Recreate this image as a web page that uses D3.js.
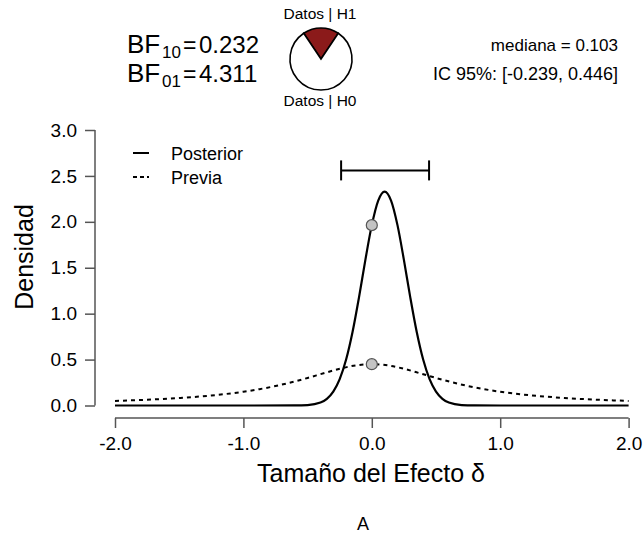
<!DOCTYPE html>
<meta charset="utf-8">
<script src="https://d3js.org/d3.v7.min.js"></script>
<style>
  body { margin: 0; background: #fff; }
  text { font-family: "Liberation Sans", Arial, sans-serif; fill: #000; }
</style>
<div id="my_dataviz"></div>
<script>

// values
var postX = [-2, -1, -0.6, -0.5, -0.4, -0.35, -0.3, -0.25, -0.2, -0.15, -0.1, -0.05, 0, 0.05, 0.1,
             0.15, 0.2, 0.25, 0.3, 0.35, 0.4, 0.45, 0.5, 0.55, 0.6, 0.7, 0.8, 1, 2];
var postY = [0, 0, 0.001, 0.005, 0.032, 0.073, 0.151, 0.287, 0.50, 0.80, 1.175, 1.586, 1.964, 2.232, 2.33,
             2.232, 1.964, 1.586, 1.175, 0.80, 0.50, 0.287, 0.151, 0.073, 0.032, 0.005, 0.001, 0, 0];
var priorX = [-2, -1.75, -1.5, -1.25, -1, -0.875, -0.75, -0.625, -0.5, -0.375, -0.25, -0.125, 0,
              0.125, 0.25, 0.375, 0.5, 0.625, 0.75, 0.875, 1, 1.25, 1.5, 1.75, 2];
var priorY = [0.050, 0.063, 0.082, 0.109, 0.150, 0.178, 0.212, 0.253, 0.300, 0.351, 0.400, 0.437, 0.450,
              0.437, 0.400, 0.351, 0.300, 0.253, 0.212, 0.178, 0.150, 0.109, 0.082, 0.063, 0.050];
var xTicks = [-2, -1, 0, 1, 2];
var yTicks = [0, 0.5, 1, 1.5, 2, 2.5, 3];
var ciBounds = [-0.239, 0.446];
var ciHeight = 2.56;
var dotsX = [0, 0];
var dotsY = [1.964, 0.450];
var pieProbs = [0.188, 0.812];   // P(H1|datos), P(H0|datos)
var bf10 = "0.232", bf01 = "4.311";
var medianText = "mediana = 0.103";
var ciText = "IC 95%: [-0.239, 0.446]";

var width = 643, height = 537;

var svg = d3.select("#my_dataviz")
  .append("svg")
    .attr("width", width)
    .attr("height", height);

var x = d3.scaleLinear().domain([-2, 2]).range([115, 628.6]);
var y = d3.scaleLinear().domain([0, 3]).range([405.5, 130]);

// plain hyphen for negatives, like the original
var fmt = function (d) { return d.toFixed(1); };

// Y axis
var yAxis = svg.append("g")
  .attr("transform", "translate(95,0)")
  .call(d3.axisLeft(y).tickValues(yTicks).tickSize(10).tickPadding(8).tickFormat(fmt));
yAxis.select(".domain").attr("d", "M0," + y(0) + "V" + y(3)).attr("stroke", "#555").attr("stroke-width", 1.5);
yAxis.selectAll(".tick line").attr("stroke", "#555").attr("stroke-width", 1.5);
yAxis.selectAll(".tick text").attr("font-size", 19).attr("font-family", null).attr("fill", "#000");

// X axis
var xAxis = svg.append("g")
  .attr("transform", "translate(0,418)")
  .call(d3.axisBottom(x).tickValues(xTicks).tickSize(10).tickPadding(9).tickFormat(fmt));
xAxis.select(".domain").attr("d", "M" + x(-2) + ",0H" + x(2)).attr("stroke", "#555").attr("stroke-width", 1.5);
xAxis.selectAll(".tick line").attr("stroke", "#555").attr("stroke-width", 1.5);
xAxis.selectAll(".tick text").attr("font-size", 19).attr("font-family", null).attr("fill", "#000");

// axis titles
svg.append("text")
  .attr("x", 371).attr("y", 482)
  .attr("text-anchor", "middle").attr("font-size", 25)
  .text("Tamaño del Efecto δ");
svg.append("text")
  .attr("transform", "translate(33,257) rotate(-90)")
  .attr("text-anchor", "middle").attr("font-size", 25)
  .text("Densidad");
svg.append("text")
  .attr("x", 363).attr("y", 530)
  .attr("text-anchor", "middle").attr("font-size", 18)
  .text("A");

// curves
var line = d3.line()
  .x(function (d) { return x(d[0]); })
  .y(function (d) { return y(d[1]); })
  .curve(d3.curveMonotoneX);

svg.append("path")
  .datum(priorX.map(function (v, i) { return [v, priorY[i]]; }))
  .attr("d", line)
  .attr("fill", "none").attr("stroke", "#000").attr("stroke-width", 2)
  .attr("stroke-dasharray", "4,4");

svg.append("path")
  .datum(postX.map(function (v, i) { return [v, postY[i]]; }))
  .attr("d", line)
  .attr("fill", "none").attr("stroke", "#000").attr("stroke-width", 2.2);

// dots at delta = 0
svg.selectAll("circle.dot")
  .data(dotsX.map(function (v, i) { return [v, dotsY[i]]; }))
  .enter()
  .append("circle")
    .attr("class", "dot")
    .attr("cx", function (d) { return x(d[0]); })
    .attr("cy", function (d) { return y(d[1]); })
    .attr("r", 5.5)
    .attr("fill", "#c4c4c4")
    .attr("stroke", "#555").attr("stroke-width", 1.2);

// credible interval bar
var ciY = y(ciHeight);
var ci = svg.append("g").attr("stroke", "#000").attr("stroke-width", 2);
ci.append("line").attr("x1", x(ciBounds[0])).attr("x2", x(ciBounds[1])).attr("y1", ciY).attr("y2", ciY);
ciBounds.forEach(function (b) {
  ci.append("line").attr("x1", x(b)).attr("x2", x(b)).attr("y1", ciY - 10).attr("y2", ciY + 10);
});

// legend
var legend = [{name: "Posterior", dash: null, y: 153}, {name: "Previa", dash: "4,3", y: 177}];
legend.forEach(function (d) {
  svg.append("line")
    .attr("x1", 133).attr("x2", 149).attr("y1", d.y).attr("y2", d.y)
    .attr("stroke", "#000").attr("stroke-width", 2)
    .attr("stroke-dasharray", d.dash);
  svg.append("text")
    .attr("x", 171).attr("y", d.y + 7)
    .attr("font-size", 18)
    .text(d.name);
});

// Bayes factors
function bfLine(yb, sub, val) {
  var g = svg.append("g");
  g.append("text").attr("x", 127).attr("y", yb).attr("font-size", 26).text("BF");
  g.append("text").attr("x", 162).attr("y", yb + 5).attr("font-size", 17).text(sub);
  g.append("text").attr("x", 183).attr("y", yb).attr("font-size", 23).text("=");
  g.append("text").attr("x", 199).attr("y", yb).attr("font-size", 24).text(val);
}
bfLine(53, "10", bf10);
bfLine(82, "01", bf01);

// median and interval text
svg.append("text").attr("x", 618).attr("y", 51)
  .attr("text-anchor", "end").attr("font-size", 17).text(medianText);
svg.append("text").attr("x", 618).attr("y", 80)
  .attr("text-anchor", "end").attr("font-size", 18).text(ciText);

// pie of posterior model probabilities
var pie = d3.pie().sort(null)
  .startAngle(-pieProbs[0] * Math.PI)
  .endAngle(2 * Math.PI - pieProbs[0] * Math.PI);
var arc = d3.arc().innerRadius(0).outerRadius(31);
svg.append("g")
  .attr("transform", "translate(321,59)")
  .selectAll("path")
  .data(pie(pieProbs))
  .enter()
  .append("path")
    .attr("d", arc)
    .attr("fill", function (d, i) { return i === 0 ? "#8b1a1a" : "#fff"; })
    .attr("stroke", "#000").attr("stroke-width", 1.6);
svg.append("text").attr("x", 320).attr("y", 19)
  .attr("text-anchor", "middle").attr("font-size", 15.5).text("Datos | H1");
svg.append("text").attr("x", 320).attr("y", 106)
  .attr("text-anchor", "middle").attr("font-size", 15.5).text("Datos | H0");

</script>
